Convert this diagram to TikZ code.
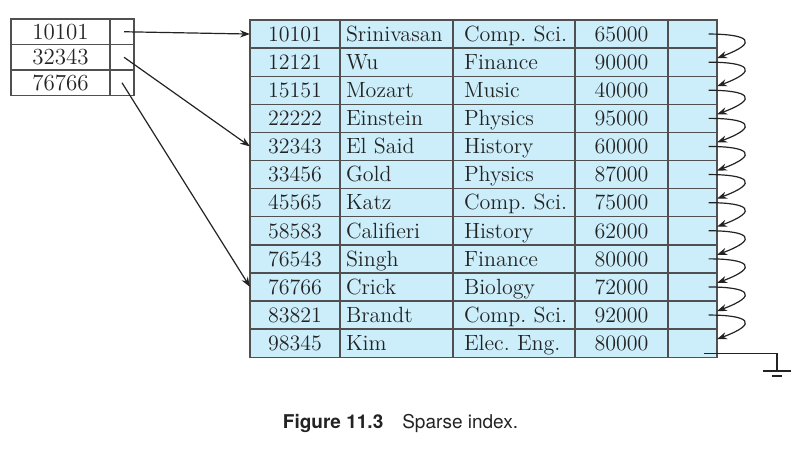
\documentclass[tikz,border=0pt]{standalone}
\usepackage{fontspec}
\setsansfont{TeX Gyre Heros}
\usepackage{xcolor}
\usetikzlibrary{arrows.meta,positioning,calc}
\definecolor{recfill}{RGB}{204,238,250}
\definecolor{gridgray}{RGB}{80,80,80}
\definecolor{inkgray}{RGB}{35,35,35}

\begin{document}
\begin{tikzpicture}[
	x=0.5pt, y=-0.5pt,
	>={Stealth[length=5pt,width=3.6pt]},
	cell/.style={draw=gridgray, fill=recfill, line width=0.7pt, text=inkgray,
		minimum height=14.05pt, inner sep=0pt, outer sep=0pt,
		text height=9pt, text depth=1.7pt, font=\fontsize{11}{13}\selectfont\frenchspacing},
	lcell/.style={cell, align=left, text width=#1},
	icell/.style={cell, fill=white, minimum height=12.75pt,
		font=\fontsize{11.5}{13}\selectfont},
	link/.style={->, line width=0.6pt, inkgray}]
	\useasboundingbox (0,0) rectangle (797,450);
	% sparse index
	\foreach \key [count=\k] in {10101,32343,76766}{
		\pgfmathsetmacro\yc{19+25.5*(\k-0.5)}
		\node[icell, minimum width=49.5pt] (k\k) at (60.5,\yc) {\key};
		\node[icell, minimum width=12pt] (q\k) at (122,\yc) {};
	}
	% data file
	\foreach \id/\name/\dept/\sal [count=\r] in {
		10101/Srinivasan/Comp. Sci./65000, 12121/Wu/Finance/90000,
		15151/Mozart/Music/40000, 22222/Einstein/Physics/95000,
		32343/El Said/History/60000, 33456/Gold/Physics/87000,
		45565/Katz/Comp. Sci./75000, 58583/Califieri/History/62000,
		76543/Singh/Finance/80000, 76766/Crick/Biology/72000,
		83821/Brandt/Comp. Sci./92000, 98345/Kim/Elec. Eng./80000}{
		\pgfmathsetmacro\yc{20+28.1*(\r-0.5)}
		\node[cell, minimum width=45pt] (i\r) at (295,\yc) {\id};
		\node[lcell=50.5pt, inner xsep=3pt] (n\r) at (396.5,\yc) {\mbox{\name}};
		\node[lcell=50pt, inner xsep=5.5pt] (d\r) at (514,\yc) {\mbox{\dept}};
		\node[cell, minimum width=46.5pt] (s\r) at (621.5,\yc) {\sal};
		\node[cell, minimum width=24.5pt] (p\r) at (692.5,\yc) {};
	}
	% index pointers
	\draw[link] ([xshift=1pt]q1.center) -- (i1.west);
	\draw[link] ([xshift=1pt]q2.center) -- (i5.west);
	\draw[link] (q3.center) -- (i10.west);
	% chain of records
	\foreach \r [evaluate=\r as \n using int(\r+1)] in {1,...,11}
		\draw[link] ([xshift=8pt]p\r.center) .. controls +(40,0) and +(43,-16) .. ([yshift=2pt]p\n.east);
	% end of chain
	\coordinate (gnd) at (777,371);
	\draw[line width=0.6pt, inkgray] ([xshift=5.5pt,yshift=-5pt]p12.center) -| (gnd);
	\draw[line width=0.6pt, inkgray] ([xshift=-7pt]gnd) -- ([xshift=7pt]gnd);
	\draw[line width=0.6pt, inkgray] ([xshift=-2.5pt,yshift=-2.5pt]gnd) -- ([xshift=2.5pt,yshift=-2.5pt]gnd);
	% caption
	\node[text=inkgray, font=\sffamily\fontsize{9.5}{11}\selectfont] (cap) at (400.5,423)
		{\textbf{Figure 11.3}\quad Sparse index.};
\end{tikzpicture}
\end{document}
